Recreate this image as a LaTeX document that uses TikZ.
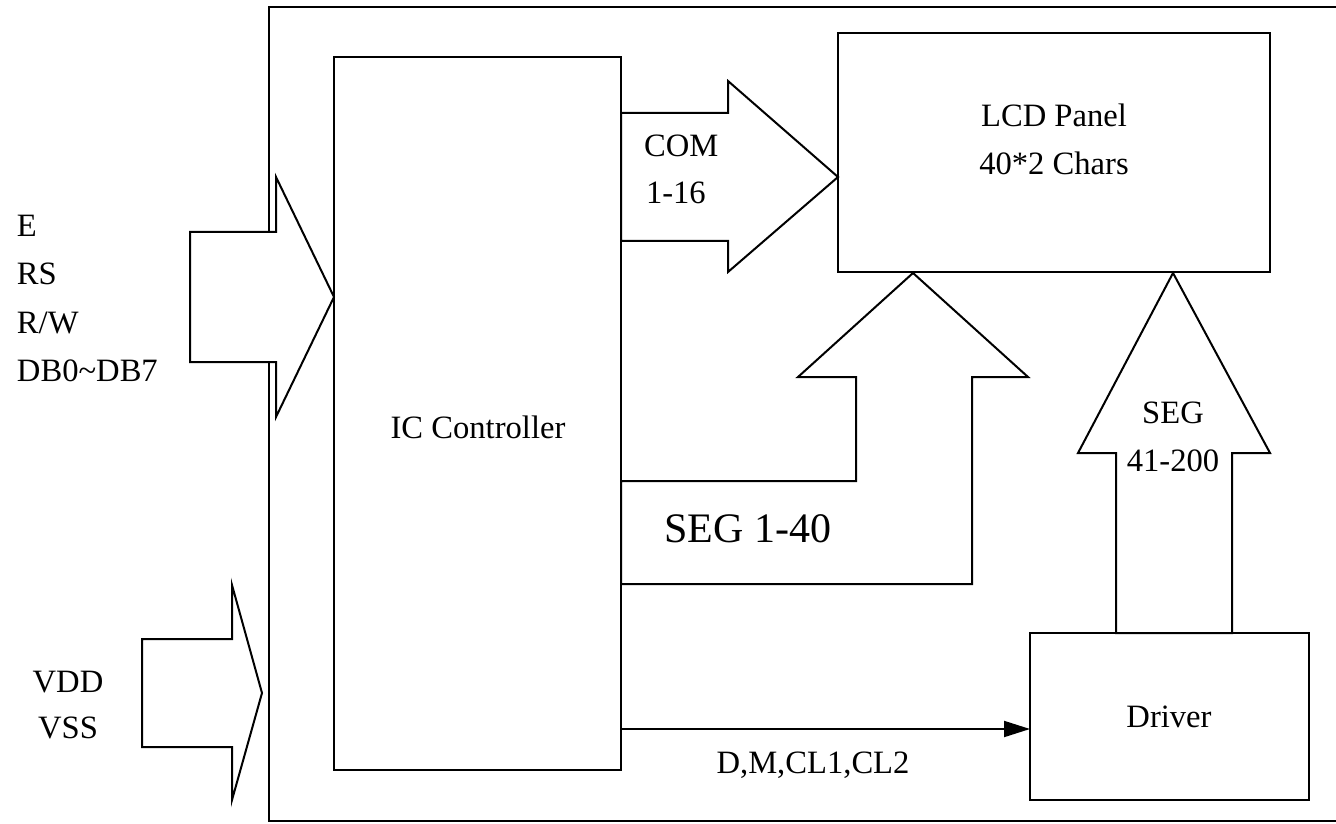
\documentclass[tikz,border=0pt]{standalone}
\usepackage{fontspec}
\setmainfont{Liberation Serif}
\usetikzlibrary{arrows.meta}
\begin{document}
\begin{tikzpicture}[x=0.5pt,y=-0.5pt,>={Triangle[length=13pt,width=8pt]},line width=1pt,
  box/.style={draw,inner sep=0pt,outer sep=0pt},
  fat/.style={draw,fill=white,line join=miter},
  lbl/.style={font=\fontsize{16.3}{19}\selectfont,inner sep=0pt}]
\useasboundingbox (0,0) rectangle (1336,823);
\draw (1336,7)--(269,7)--(269,821)--(1336,821);
\node[box,minimum width=143.5pt,minimum height=356.5pt] (ic) at (477.5,413.5){};
\node[box,minimum width=216pt,minimum height=119.5pt] (lcd) at (1054,152.5){};
\node[box,minimum width=139.5pt,minimum height=83.5pt] (drv) at (1169.5,716.5){};
% block arrows
\draw[fat] (190,232)--(276,232)--(276,177)--(334,297)--(276,417)--(276,362)--(190,362)--cycle;
\draw[fat] (142,639)--(232,639)--(232,585)--(262,693)--(232,800)--(232,747)--(142,747)--cycle;
\draw[fat] (621,113)--(728,113)--(728,81)--(838,177)--(728,272)--(728,241)--(621,241)--cycle;
\draw[fat] (621,481)--(856,481)--(856,377)--(798,377)--(913,273)--(1028,377)--(972,377)--(972,584)--(621,584)--cycle;
\draw[fat] (1116,633)--(1116,453)--(1078,453)--(1173,273)--(1270,453)--(1232,453)--(1232,633)--cycle;
\coordinate (dm) at (621,729);\draw[->] (dm)--(dm -| drv.west);
\foreach \s [count=\i from 0] in {E,RS,R/W,DB0\char`\~DB7}{\node[lbl,anchor=base west] (in\i) at (16,237+48*\i){\s};}
\node[lbl,anchor=base] (vdd) at (68,692){VDD};\node[lbl,anchor=base] (vss) at (68,738){VSS};
\node[lbl,anchor=base west] (com) at (643,157){COM};\node[lbl,anchor=base west] (com2) at (645,204){1-16};
\node[lbl,anchor=base] (lcdt) at (1054,127){LCD Panel};\node[lbl,anchor=base] (lcdt2) at (1054,175){40*2 Chars};
\node[lbl,anchor=base] (ict) at (478,438){IC Controller};
\node[lbl,anchor=base,font=\fontsize{21}{25}\selectfont] (seg) at (748,542){SEG 1-40};
\node[lbl,anchor=base] (segb) at (1173,423){SEG};\node[lbl,anchor=base] (segb2) at (1173,471){41-200};
\node[lbl,anchor=base] (drvt) at (1169,727){Driver};
\node[lbl,anchor=base] (dmt) at (813,773){D,M,CL1,CL2};
\end{tikzpicture}
\end{document}
